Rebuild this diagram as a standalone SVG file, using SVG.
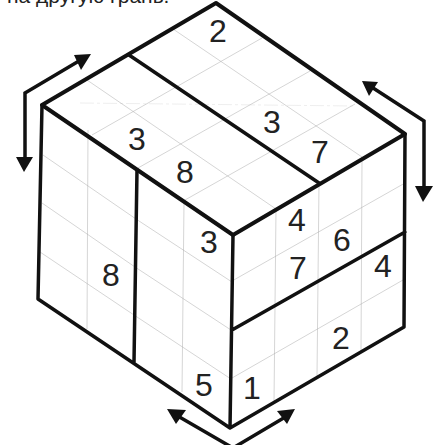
<svg xmlns="http://www.w3.org/2000/svg" width="440" height="445" viewBox="0 0 440 445">
<style>
text{font-family:"Liberation Sans",Arial,sans-serif;fill:#222}
.n{font-size:32px;text-anchor:middle}
.g{stroke:#aaa;stroke-width:.5;fill:none}
.t{stroke:#111;fill:none;stroke-linecap:round;stroke-linejoin:round}
.a{stroke:#111;stroke-width:3.500;fill:none;stroke-linejoin:miter}
.h{fill:#111}
</style>
<rect width="440" height="445" fill="#fff"/>
<text x="7" y="3" font-size="21" id="caption">на другую грань.</text>
<g id="grid" class="g">
<path stroke-dasharray="14 3 3 3" style="stroke:#ddd" d="M80 103L353 106"/>
<path d="M87 80L276 209M173 29L362 157"/>
<path d="M262 38L92 135M310 71L138 168M355 104L185 200"/>
<path d="M88 130L87 329M184 202L182 392"/>
<path d="M43 155L136 219L232 282M42 203L135 267L231 330M40 252L134 315L231 379"/>
<path d="M276 209L274 402M319 183L317 376M362 159L361 351"/>
<path d="M232 281L405 183M232 378L403 280"/>
</g>
<g id="connectors">
<path class="a" d="M84 58L25 93L25 160"/>
<polygon class="h" points="91,54 74,55 81,70"/>
<polygon class="h" points="16,157 33,157 24,172"/>
<path class="a" d="M370 86L424 121L424 190"/>
<polygon class="h" points="362,81 378,82 369,96"/>
<polygon class="h" points="415,186 433,186 423,202"/>
<path class="a" d="M176 415L233 448L287 416"/>
<polygon class="h" points="167,409 186,410 176,424"/>
<polygon class="h" points="295,409 277,411 287,424"/>
</g>
<g id="cube">
<path class="t" stroke-width="4" d="M42 105L216 3L405 134L233 235L42 105"/>
<path class="t" stroke-width="3.500" d="M42 105L38 299L230 428L404 327L405 134M233 235L230 428M129 55L319 183M137 170L134 362M232 330L405 232"/>
</g>
<g id="digits">
<text class="n" x="218" y="42">2</text>
<text class="n" x="137" y="150">3</text>
<text class="n" x="185" y="183">8</text>
<text class="n" x="272" y="133">3</text>
<text class="n" x="320" y="163">7</text>
<text class="n" x="297" y="231">4</text>
<text class="n" x="209" y="253">3</text>
<text class="n" x="342" y="251">6</text>
<text class="n" x="298" y="279">7</text>
<text class="n" x="383" y="277">4</text>
<text class="n" x="111" y="286">8</text>
<text class="n" x="341" y="349">2</text>
<text class="n" x="204" y="396">5</text>
<text class="n" x="252" y="399">1</text>
</g>
</svg>
